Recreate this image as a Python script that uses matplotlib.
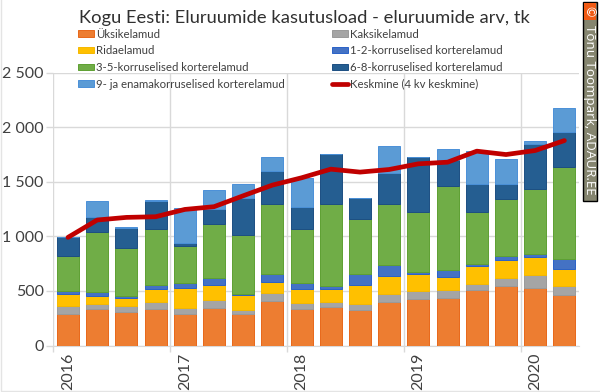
"""
Kogu Eesti: eluruumide kasutusload, stacked quarterly bars with a moving average
"""

import matplotlib
matplotlib.use('Agg')
import matplotlib.pyplot as plt
from matplotlib.lines import Line2D
from matplotlib.patches import Rectangle
from matplotlib.ticker import FixedLocator, FuncFormatter
import numpy as np

plt.rcParams['font.family'] = ['Lato', 'DejaVu Sans']

quarters = list(range(18))
year_ticks = [0, 4, 8, 12, 16]
year_labels = ['2016', '2017', '2018', '2019', '2020']

yksik = [290, 335, 305, 335, 290, 345, 290, 406, 335, 351, 329, 403, 424, 436, 506, 543, 531, 461]
kaksik = [73, 46, 58, 65, 58, 73, 36, 76, 55, 46, 49, 67, 76, 70, 55, 76, 116, 82]
rida = [113, 73, 73, 115, 183, 137, 138, 101, 129, 118, 174, 164, 159, 119, 165, 165, 161, 155]
k12 = [21, 34, 18, 40, 42, 64, 6, 73, 54, 31, 107, 101, 18, 64, 24, 33, 34, 92]
k35 = [323, 555, 443, 515, 342, 494, 543, 640, 495, 747, 503, 558, 543, 769, 470, 522, 588, 842]
k68 = [171, 134, 183, 257, 24, 141, 341, 302, 198, 458, 186, 287, 509, 238, 259, 140, 418, 323]
k9 = [0, 147, 6, 6, 318, 167, 125, 125, 268, 0, 6, 244, 0, 107, 301, 226, 22, 220]
keskmine = [991, 1150, 1174, 1180, 1247, 1272, 1372, 1470, 1537, 1616, 1589, 1613, 1665, 1680, 1781, 1750, 1787, 1878]

series = [yksik, kaksik, rida, k12, k35, k68, k9]
names = ['Üksikelamud', 'Kaksikelamud', 'Ridaelamud', '1-2-korruselised korterelamud',
         '3-5-korruselised korterelamud', '6-8-korruselised korterelamud',
         '9- ja enamakorruselised korterelamud']
colors = ['#ED7D31', '#A5A5A5', '#FFC000', '#4472C4', '#70AD47', '#255E91', '#5B9BD5']
edges = ['#E8681A', '#9A9A9A', '#F5B800', '#2A62C8', '#5EA032', '#1C4F82', '#4A90D8']

TEXT_COLOR = '#404040'
GRID_COLOR = '#D9D9D9'

fig = plt.figure(figsize=(6, 3.92), dpi=100, facecolor='white')
ax = fig.add_axes([53.4 / 600, 1 - 345.5 / 392, 525.6 / 600, 272.8 / 392])

bottom = np.zeros(len(quarters))
bars = []
for values, name, color, edge in zip(series, names, colors, edges):
    b = ax.bar(quarters, values, width=0.76, bottom=bottom, color=color,
               edgecolor=edge, linewidth=0.7, label=name, zorder=3)
    bars.append(b)
    bottom += np.array(values)

line, = ax.plot(quarters, keskmine, color='#C00000', linewidth=3.4,
                solid_capstyle='round', solid_joinstyle='round',
                label='Keskmine (4 kv keskmine)', zorder=4)

ax.set_xlim(-0.5, 17.5)
ax.set_ylim(0, 2500)
ax.yaxis.set_major_locator(FixedLocator([0, 500, 1000, 1500, 2000, 2500]))
ax.yaxis.set_major_formatter(FuncFormatter(lambda v, p: f'{int(v):,}'.replace(',', ' ')))
ax.set_xticks(year_ticks)
ax.set_xticklabels(year_labels, rotation=90)
ax.xaxis.set_minor_locator(FixedLocator([-0.5, 3.5, 7.5, 11.5, 15.5]))

ax.grid(axis='y', color=GRID_COLOR, linewidth=1.0, zorder=0)
ax.grid(axis='x', which='minor', color=GRID_COLOR, linewidth=1.0, zorder=0)
ax.tick_params(axis='y', length=5, width=1.0, color=GRID_COLOR, labelsize=11.5,
               labelcolor=TEXT_COLOR, pad=2)
ax.tick_params(axis='x', which='major', length=0, labelsize=11.5,
               labelcolor=TEXT_COLOR, pad=5)
ax.tick_params(axis='x', which='minor', length=4, width=1.0, color=GRID_COLOR)
for side in ['top', 'right', 'left']:
    ax.spines[side].set_visible(False)
ax.spines['bottom'].set_color(GRID_COLOR)

fig.text(79 / 600, 1 - 18 / 392, 'Kogu Eesti: Eluruumide kasutusload - eluruumide arv, tk',
         ha='left', va='center', fontsize=13.25, color='#303030')

# legend fills column by column, the picture reads row by row
handles = [bars[0], bars[2], bars[4], bars[6], bars[1], bars[3], bars[5], line]
leg = fig.legend(handles=handles, ncol=2, loc='upper left',
                 bbox_to_anchor=(78 / 600, 1 - 28.5 / 392), frameon=False,
                 fontsize=8.2, labelcolor=TEXT_COLOR, handlelength=1.4, handleheight=0.5,
                 handletextpad=0.2, columnspacing=4.1, labelspacing=0.5,
                 borderpad=0, borderaxespad=0)

# thin frame of the picture, left and bottom
fig.add_artist(Line2D([0.5 / 600, 0.5 / 600, 1], [1, 1 / 392, 1 / 392],
                      transform=fig.transFigure, color='#E4E4E4', linewidth=1.0))

# copyright strip on the right edge
fig.add_artist(Rectangle((582.5 / 600, 1 - 201 / 392), 14.5 / 600, 199 / 392,
                         transform=fig.transFigure, facecolor='#85856F',
                         edgecolor='black', linewidth=1.0))
fig.add_artist(Rectangle((583.5 / 600, 1 - 20 / 392), 12.5 / 600, 17 / 392,
                         transform=fig.transFigure, facecolor='#F05A14',
                         edgecolor='none'))
fig.text(589.7 / 600, 1 - 11.5 / 392, '©', rotation=270, ha='center', va='center',
         fontsize=9, color='white')
fig.text(589.7 / 600, 1 - 110 / 392, 'Tõnu Toompark, ADAUR.EE', rotation=270,
         ha='center', va='center', fontsize=9.6, color='white',
         family=['Open Sans', 'DejaVu Sans'])

fig.savefig('out.png', dpi=100, facecolor='white')
plt.close(fig)
